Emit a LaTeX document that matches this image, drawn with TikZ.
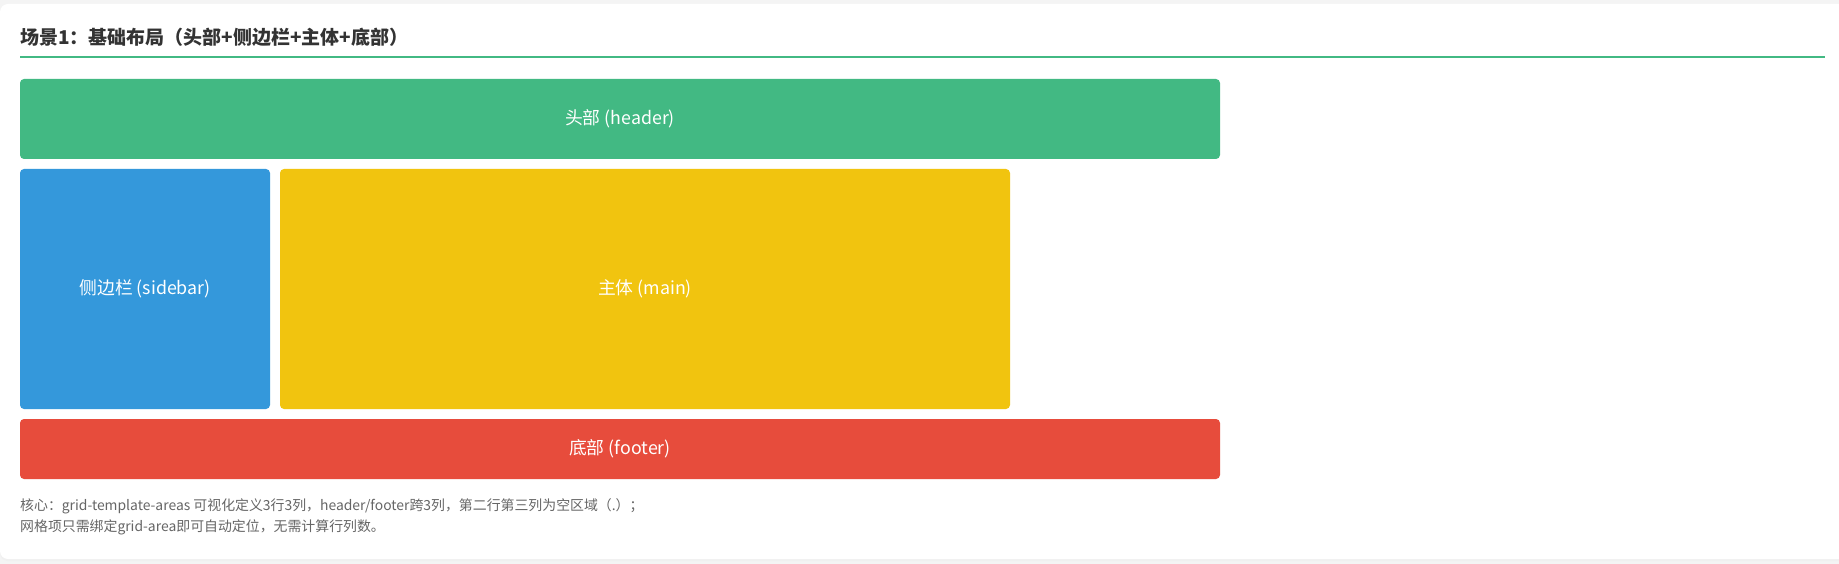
\documentclass[tikz,border=0pt]{standalone}
\usepackage{fontspec}
\setmainfont{Noto Sans CJK SC}
\definecolor{pagebg}{HTML}{F4F4F4}
\definecolor{vgreen}{HTML}{42B983}
\definecolor{sblue}{HTML}{3498DB}
\definecolor{myellow}{HTML}{F1C40F}
\definecolor{fred}{HTML}{E74C3C}
\definecolor{titlec}{HTML}{333333}
\definecolor{notec}{HTML}{666666}
\tikzset{
  area/.style={rounded corners=4pt, inner sep=0pt, text=white, font=\fontsize{17.8}{21}\selectfont},
  notetext/.style={anchor=west, inner sep=0pt, text=notec, font=\fontsize{13.9}{16}\selectfont},
}
\begin{document}
\begin{tikzpicture}[x=1pt,y=-1pt]
\useasboundingbox (0,0) rectangle (1839,564);
\fill[pagebg] (0,0) rectangle (1839,564);
\fill[black!6, rounded corners=8pt] (0,5) rectangle (1850,561);
\fill[white, rounded corners=8pt] (0,4) rectangle (1850,559);
\node[anchor=west, inner sep=0pt, text=titlec, font=\fontsize{19}{22}\selectfont\bfseries] (title) at (20,37.5) {场景1：基础布局（头部+侧边栏+主体+底部）};
\coordinate (ruleL) at (20,57.5);
\coordinate (ruleR) at (1825,57.5);
\draw[vgreen, line width=2pt] (ruleL) -- (ruleR);
\node[area, fill=vgreen, minimum width=1200pt, minimum height=80pt] (header) at (620,119) {头部 (header)};
\node[area, fill=sblue, minimum width=250pt, minimum height=240pt] (sidebar) at (145,289) {侧边栏 (sidebar)};
\node[area, fill=myellow, minimum width=730pt, minimum height=240pt] (main) at (645,289) {主体 (main)};
\node[area, fill=fred, minimum width=1200pt, minimum height=60pt] (footer) at (620,449) {底部 (footer)};
\node[notetext] (note1) at (20,506) {核心：grid-template-areas 可视化定义3行3列，header/footer跨3列，第二行第三列为空区域（.）；};
\node[notetext] (note2) at (20,527) {网格项只需绑定grid-area即可自动定位，无需计算行列数。};
\end{tikzpicture}
\end{document}
